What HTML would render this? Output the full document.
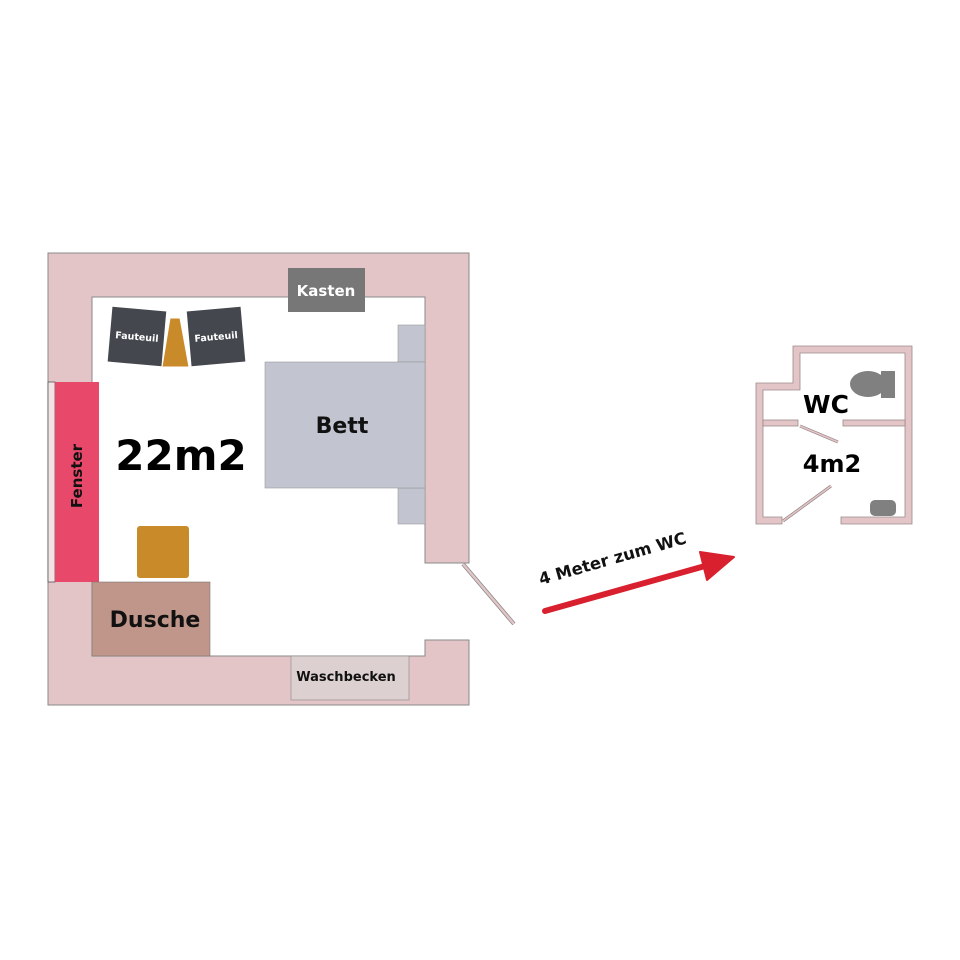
<!DOCTYPE html>
<html><head><meta charset="utf-8"><style>html,body{margin:0;padding:0;background:#fff}svg{display:block}text{font-family:"DejaVu Sans","Liberation Sans",sans-serif;font-weight:bold}</style></head>
<body>
<svg width="960" height="960" viewBox="0 0 960 960" xmlns="http://www.w3.org/2000/svg">
<rect width="960" height="960" fill="#fff"/>
<path d="M48,253 H469 V563 H425 V297 H92 V656 H425 V640 H469 V705 H48 Z" fill="#e3c5c8" stroke="#8a8a8a" stroke-width="1"/>
<line x1="463" y1="564" x2="514" y2="624" stroke="#8a8a8a" stroke-width="4"/>
<line x1="463" y1="564" x2="514" y2="624" stroke="#e3c5c8" stroke-width="2.5"/>
<rect x="48" y="382" width="7" height="200" fill="#f2e4e5" stroke="#555" stroke-width="0.8"/>
<rect x="55" y="382" width="44" height="200" fill="#e8486a"/>
<text transform="translate(82,476) rotate(-90)" font-size="15" text-anchor="middle" fill="#111">Fenster</text>
<rect x="288" y="268" width="77" height="44" fill="#777"/>
<text x="326" y="296" font-size="15" text-anchor="middle" fill="#fff">Kasten</text>
<g transform="translate(137,336) rotate(5)"><rect x="-27" y="-27" width="54" height="55" fill="#44474d"/><text x="0" y="4" font-size="9.5" fill="#fff" text-anchor="middle">Fauteuil</text></g>
<g transform="translate(216,336) rotate(-5)"><rect x="-27" y="-27" width="54" height="55" fill="#44474d"/><text x="0" y="4" font-size="9.5" fill="#fff" text-anchor="middle">Fauteuil</text></g>
<polygon points="170,318 180,318 189,367 162,367" fill="#c98a2a" stroke="#fff" stroke-width="1"/>
<rect x="398" y="325" width="27" height="37" fill="#c2c5d0" stroke="#999" stroke-width="0.6"/>
<rect x="398" y="488" width="27" height="36" fill="#c2c5d0" stroke="#999" stroke-width="0.6"/>
<rect x="265" y="362" width="160" height="126" fill="#c2c5d0" stroke="#999" stroke-width="0.6"/>
<text x="342" y="433" font-size="22" text-anchor="middle" fill="#111">Bett</text>
<text x="181" y="470" font-size="42" text-anchor="middle" fill="#000">22m2</text>
<rect x="137" y="526" width="52" height="52" rx="3" fill="#c98a2a"/>
<rect x="92" y="582" width="118" height="74" fill="#c0968a" stroke="#777" stroke-width="0.6"/>
<text x="155" y="627" font-size="22" text-anchor="middle" fill="#111">Dusche</text>
<rect x="291" y="656" width="118" height="44" fill="#dcd0d0" stroke="#888" stroke-width="0.6"/>
<text x="346" y="681" font-size="13" text-anchor="middle" fill="#111">Waschbecken</text>
<line x1="545" y1="611" x2="705" y2="566" stroke="#d9202e" stroke-width="6" stroke-linecap="round"/>
<polygon points="700,552 734,557 707,580" fill="#d9202e" stroke="#d9202e" stroke-width="2" stroke-linejoin="round"/>
<text transform="translate(614,564) rotate(-16)" font-size="16.5" text-anchor="middle" fill="#111">4 Meter zum WC</text>
<path d="M793,346 H912 V524 H841 V517 H905 V353 H800 V390 H763 V517 H782 V524 H756 V383 H793 Z" fill="#e3c5c8" stroke="#9a8a8a" stroke-width="0.8"/>
<rect x="763" y="420" width="35" height="6" fill="#e3c5c8" stroke="#9a8a8a" stroke-width="0.8"/>
<rect x="843" y="420" width="62" height="6" fill="#e3c5c8" stroke="#9a8a8a" stroke-width="0.8"/>
<line x1="800" y1="426" x2="838" y2="442" stroke="#9a8a8a" stroke-width="3"/>
<line x1="800" y1="426" x2="838" y2="442" stroke="#e3c5c8" stroke-width="1.5"/>
<line x1="783" y1="521" x2="831" y2="486" stroke="#9a8a8a" stroke-width="3"/>
<line x1="783" y1="521" x2="831" y2="486" stroke="#e3c5c8" stroke-width="1.5"/>
<ellipse cx="868" cy="384" rx="18" ry="13" fill="#808080"/>
<rect x="881" y="371" width="14" height="27" fill="#808080"/>
<rect x="870" y="500" width="26" height="16" rx="5" fill="#808080"/>
<text x="826" y="413" font-size="25" text-anchor="middle" fill="#000">WC</text>
<text x="832" y="472" font-size="24" text-anchor="middle" fill="#000">4m2</text>
</svg>
</body></html>
